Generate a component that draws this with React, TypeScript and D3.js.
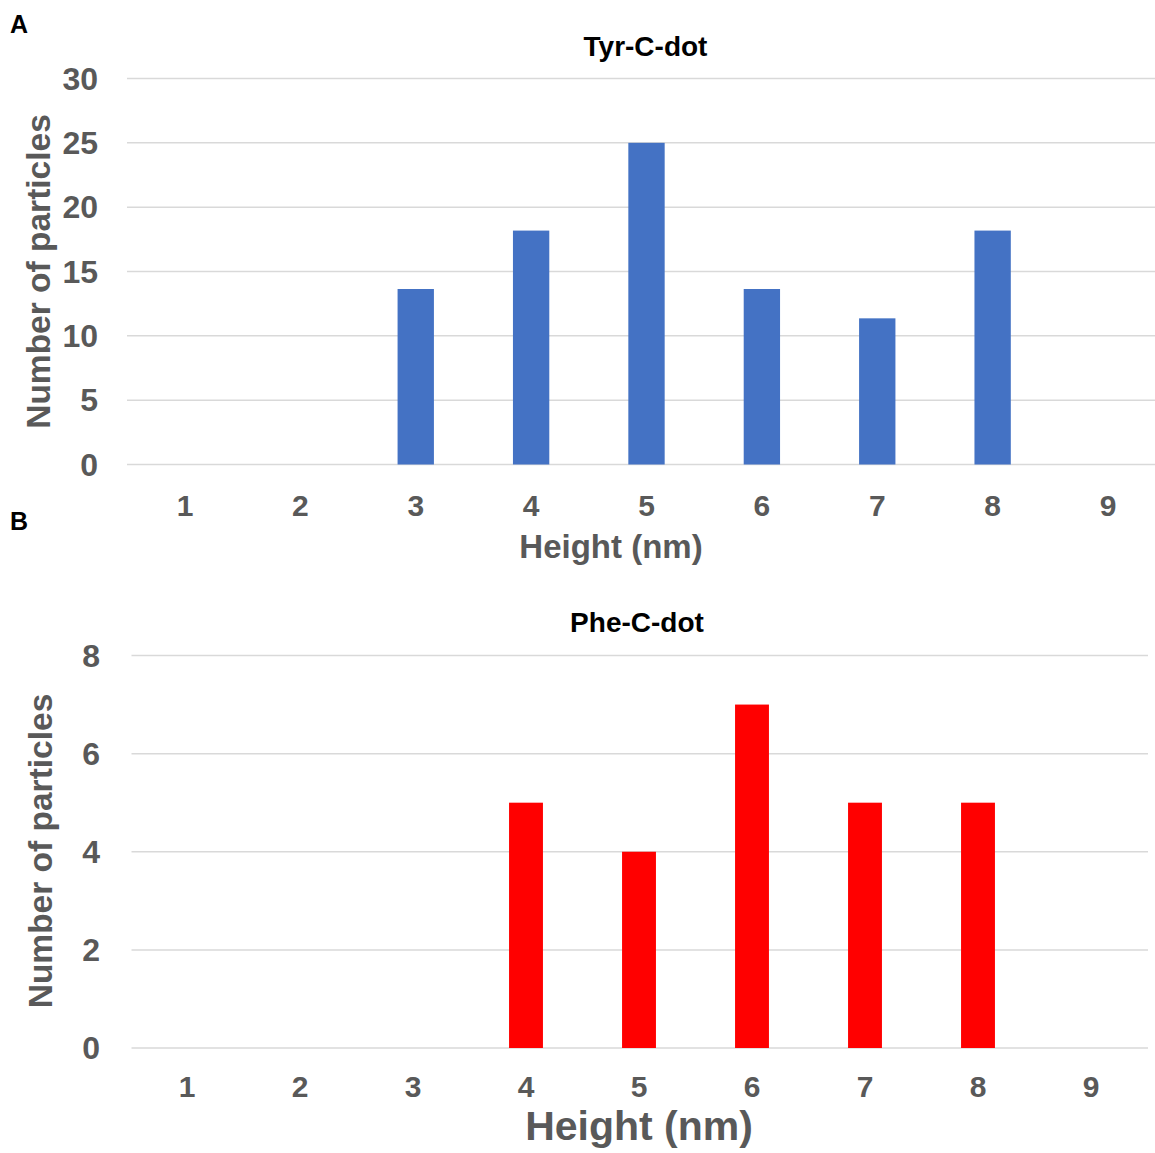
import React from "react";
import * as d3 from "d3";

// Height bins (nm) shared by both histograms
const heightBins = ["1", "2", "3", "4", "5", "6", "7", "8", "9"];

// Tyr-C-dot: share of particles per height bin (%)
const tyrValues = [0, 0, 13.64, 18.18, 25, 13.64, 11.36, 18.18, 0];
const tyrTicks = [0, 5, 10, 15, 20, 25, 30];

// Phe-C-dot: particle counts per height bin
const pheValues = [0, 0, 0, 5, 4, 7, 5, 5, 0];
const pheTicks = [0, 2, 4, 6, 8];

const FONT = "'Liberation Sans', Arial, Helvetica, sans-serif";
const GREY = "#595959";
const GRID = "#D9D9D9";

type PanelProps = {
  title: string;
  values: number[];
  ticks: number[];
  yMax: number;
  color: string;
  x0: number;
  x1: number;
  gridX0: number;
  gridX1: number;
  yBottom: number;
  yTop: number;
  barFrac: number;
  titleX: number;
  titleY: number;
  yTickRight: number;
  yTickSize: number;
  xTickY: number;
  xTickSize: number;
  yTitleX: number;
  yTitleY: number;
  yTitleSize: number;
  xTitleX: number;
  xTitleY: number;
  xTitleSize: number;
};

function Panel(p: PanelProps) {
  const x = d3
    .scaleBand<string>()
    .domain(heightBins)
    .range([p.x0, p.x1])
    .paddingInner(1 - p.barFrac)
    .paddingOuter((1 - p.barFrac) / 2);
  const y = d3.scaleLinear().domain([0, p.yMax]).range([p.yBottom, p.yTop]);
  const bw = x.bandwidth();

  return (
    <g>
      {p.ticks.map((t) => (
        <line
          key={"g" + t}
          x1={p.gridX0}
          x2={p.gridX1}
          y1={y(t)}
          y2={y(t)}
          stroke={GRID}
          strokeWidth={1.5}
        />
      ))}
      {heightBins.map((c, i) =>
        p.values[i] > 0 ? (
          <rect
            key={"b" + c}
            x={x(c)}
            y={y(p.values[i])}
            width={bw}
            height={y(0) - y(p.values[i])}
            fill={p.color}
          />
        ) : null
      )}
      {p.ticks.map((t) => (
        <text
          key={"yt" + t}
          x={p.yTickRight}
          y={y(t)}
          textAnchor="end"
          dominantBaseline="central"
          fontSize={p.yTickSize}
          fontWeight="bold"
          fill={GREY}
          fontFamily={FONT}
        >
          {t}
        </text>
      ))}
      {heightBins.map((c) => (
        <text
          key={"xt" + c}
          x={(x(c) as number) + bw / 2}
          y={p.xTickY}
          textAnchor="middle"
          fontSize={p.xTickSize}
          fontWeight="bold"
          fill={GREY}
          fontFamily={FONT}
        >
          {c}
        </text>
      ))}
      <text
        x={p.titleX}
        y={p.titleY}
        textAnchor="middle"
        fontSize={28}
        fontWeight="bold"
        fill="#000"
        fontFamily={FONT}
      >
        {p.title}
      </text>
      <text
        transform={`translate(${p.yTitleX},${p.yTitleY}) rotate(-90)`}
        textAnchor="middle"
        fontSize={p.yTitleSize}
        fontWeight="bold"
        fill={GREY}
        fontFamily={FONT}
      >
        Number of particles
      </text>
      <text
        x={p.xTitleX}
        y={p.xTitleY}
        textAnchor="middle"
        fontSize={p.xTitleSize}
        fontWeight="bold"
        fill={GREY}
        fontFamily={FONT}
      >
        Height (nm)
      </text>
    </g>
  );
}

export default function App() {
  return (
    <svg
      width={1155}
      height={1153}
      style={{ position: "absolute", left: 0, top: 0, background: "#fff" }}
    >
      <rect width={1155} height={1153} fill="#fff" />
      <text x={10} y={33} fontSize={25} fontWeight="bold" fill="#000" fontFamily={FONT}>
        A
      </text>
      <text x={10} y={530} fontSize={25} fontWeight="bold" fill="#000" fontFamily={FONT}>
        B
      </text>
      <Panel
        title="Tyr-C-dot"
        values={tyrValues}
        ticks={tyrTicks}
        yMax={30}
        color="#4472C4"
        x0={127.3}
        x1={1165.7}
        gridX0={127}
        gridX1={1155}
        yBottom={464.5}
        yTop={78.5}
        barFrac={0.315}
        titleX={645.5}
        titleY={55.5}
        yTickRight={98}
        yTickSize={32}
        xTickY={516}
        xTickSize={30}
        yTitleX={50}
        yTitleY={271.5}
        yTitleSize={33.5}
        xTitleX={611}
        xTitleY={558}
        xTitleSize={33}
      />
      <Panel
        title="Phe-C-dot"
        values={pheValues}
        ticks={pheTicks}
        yMax={8}
        color="#FF0000"
        x0={130.5}
        x1={1147.5}
        gridX0={131.5}
        gridX1={1148}
        yBottom={1048}
        yTop={655.5}
        barFrac={0.3}
        titleX={637}
        titleY={632}
        yTickRight={100}
        yTickSize={32}
        xTickY={1097}
        xTickSize={30}
        yTitleX={52}
        yTitleY={851}
        yTitleSize={33.5}
        xTitleX={639}
        xTitleY={1140}
        xTitleSize={41}
      />
    </svg>
  );
}
